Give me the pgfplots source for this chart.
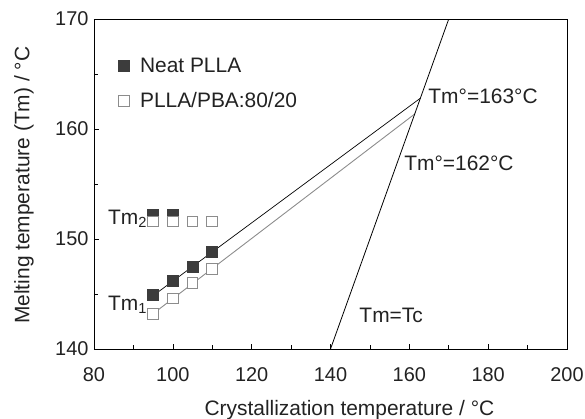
\documentclass[border=0pt]{standalone}
\usepackage{fontspec}
\setmainfont{Liberation Sans}
\usepackage{pgfplots}
\pgfplotsset{compat=1.18}
\definecolor{darkfill}{HTML}{3C3C3C}
\definecolor{openedge}{HTML}{8C8C8C}
\definecolor{txt}{HTML}{222222}
\begin{document}
\begin{tikzpicture}
\begin{axis}[
  scale only axis, width=473bp, height=330bp,
  xmin=80, xmax=200, ymin=140, ymax=170,
  xtick={80,100,...,200}, ytick={140,150,160,170},
  minor x tick num=1, minor y tick num=1,
  tick pos=left, tick align=inside,
  major tick length=5bp, minor tick length=4bp,
  axis line style={black, line width=0.8pt},
  every tick/.style={black, line width=0.6pt},
  /pgf/number format/assume math mode=true,
  ticklabel style={font=\fontsize{20}{24}\selectfont, text=txt},
  xticklabel style={anchor=base, yshift=-32bp},
  yticklabel style={anchor=east, xshift=-2bp},
  xlabel={Crystallization temperature / °C},
  ylabel={Melting temperature (Tm) / °C},
  xlabel style={font=\fontsize{21}{25}\selectfont, text=txt, at={(axis description cs:0.521,-0.2)}, anchor=base, xshift=9bp},
  ylabel style={font=\fontsize{21}{25}\selectfont, text=txt, at={(axis description cs:-0.148,0.49)}, anchor=center, xshift=2bp},
  legend style={draw=none, fill=none, at={(axis description cs:0.045,0.895)}, anchor=north west,
    font=\fontsize{21}{25}\selectfont, text=txt, row sep=15bp},
  legend cell align=left,
  legend image code/.code={\path[draw=none,fill=none] (0bp,0bp) (14bp,0bp); \draw[#1] plot coordinates {(0bp,0bp)};},
]
\coordinate (O) at (rel axis cs:0,0);
% Tm1 Neat
\addplot[only marks, mark=square*, mark size=5.6bp, mark options={fill=darkfill, draw=darkfill, line width=0.8pt}]
  coordinates {(95,144.9) (100,146.2) (105,147.5) (110,148.8)};
\addlegendentry{Neat PLLA}
% Tm1 blend
\addplot[only marks, mark=square*, mark size=5.3bp, mark options={fill=white, draw=openedge, line width=1pt}]
  coordinates {(95,143.2) (100,144.6) (105,146.0) (110,147.3)};
\addlegendentry{PLLA/PBA:80/20}
% Tm2 Neat
\addplot[only marks, mark=square*, mark size=5.6bp, mark options={fill=darkfill, draw=darkfill, line width=0.8pt}, forget plot]
  coordinates {(95,152.2) (100,152.2)};
% Tm2 blend
\addplot[only marks, mark=square*, mark size=5.3bp, mark options={fill=white, draw=openedge, line width=1pt}, forget plot]
  coordinates {(95,151.6) (100,151.6) (105,151.6) (110,151.6)};
% fit lines
\addplot[black, line width=0.7pt, forget plot] coordinates {(93.5,144.45) (162.8,162.8)};
\addplot[openedge, line width=0.9pt, forget plot] coordinates {(93.5,142.8) (161.5,161.4)};
% Tm = Tc
\addplot[black, line width=0.8pt, forget plot] coordinates {(140,140) (170,170)};
% labels
\node[anchor=base west, font=\fontsize{21}{25}\selectfont, text=txt, inner sep=0pt] at (axis cs:83.55,151.3) {Tm\textsubscript{2}};
\node[anchor=base west, font=\fontsize{21}{25}\selectfont, text=txt, inner sep=0pt] at (axis cs:83.55,143.5) {Tm\textsubscript{1}};
\node[anchor=base west, font=\fontsize{21}{25}\selectfont, text=txt, inner sep=0pt] at (axis cs:164.8,162.3) {Tm°=163°C};
\node[anchor=base west, font=\fontsize{21}{25}\selectfont, text=txt, inner sep=0pt] at (axis cs:158.7,156.2) {Tm°=162°C};
\node[anchor=base west, font=\fontsize{21}{25}\selectfont, text=txt, inner sep=0pt] at (axis cs:147.3,142.45) {Tm=Tc};
\end{axis}
\pgfresetboundingbox
\useasboundingbox ([shift={(-94bp,-70bp)}]O) rectangle ([shift={(491bp,349bp)}]O);
\end{tikzpicture}
\end{document}
